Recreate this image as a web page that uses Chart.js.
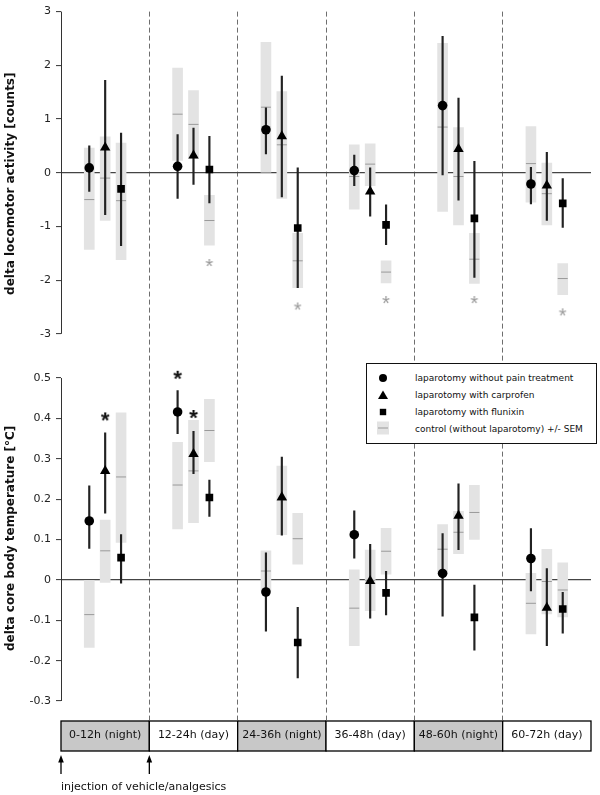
<!DOCTYPE html>
<html>
<head>
<meta charset="utf-8">
<script src="https://cdn.jsdelivr.net/npm/chart.js@4/dist/chart.umd.min.js"></script>
<style>
  body { margin: 0; background: #fff; }
  #wrap { position: relative; width: 600px; height: 795px; }
  #legend {
    position: absolute; left: 366px; top: 363px; width: 231px; height: 81px;
    box-sizing: border-box; border: 1.3px solid #111; background: #fff;
    font-family: "DejaVu Sans", sans-serif; font-size: 9px; color: #111;
  }
  #legend .mk { position: absolute; left: 9px; width: 14px; height: 14px; }
  #legend .tx { position: absolute; left: 48px; line-height: 12px; white-space: nowrap; }
</style>
</head>
<body>
<div id="wrap">
  <canvas id="chart" width="600" height="795"></canvas>
  <div id="legend">
    <svg class="mk" style="top:7px" viewBox="0 0 14 14"><circle cx="7" cy="7" r="4" fill="#000"/></svg>
    <span class="tx" style="top:8px">laparotomy without pain treatment</span>
    <svg class="mk" style="top:24px" viewBox="0 0 14 14"><polygon points="7,2.5 12,11 2,11" fill="#000"/></svg>
    <span class="tx" style="top:25px">laparotomy with carprofen</span>
    <svg class="mk" style="top:41px" viewBox="0 0 14 14"><rect x="3.8" y="3.8" width="6.4" height="6.4" fill="#000"/></svg>
    <span class="tx" style="top:42px">laparotomy with flunixin</span>
    <svg class="mk" style="top:57px" viewBox="0 0 14 14"><rect x="1" y="0.5" width="12" height="13" fill="#e3e3e3"/><line x1="2" y1="7" x2="12" y2="7" stroke="#999" stroke-width="1"/></svg>
    <span class="tx" style="top:59px">control (without laparotomy) +/- SEM</span>
  </div>
</div>
<script>
// time periods (x categories)
const periods = ['0-12h (night)', '12-24h (day)', '24-36h (night)', '36-48h (day)', '48-60h (night)', '60-72h (day)'];
const isNight = [true, false, true, false, true, false];

// y ticks
const locoTicks = [3, 2, 1, 0, -1, -2, -3];
const locoTickLabels = ['3', '2', '1', '0', '-1', '-2', '-3'];
const tempTicks = [0.5, 0.4, 0.3, 0.2, 0.1, 0, -0.1, -0.2, -0.3];
const tempTickLabels = ['0.5', '0.4', '0.3', '0.2', '0.1', '0', '-0.1', '-0.2', '-0.3'];

// delta locomotor activity [counts]
const locoNone = [0.09, 0.12, 0.80, 0.04, 1.25, -0.21];
const locoNoneErr = [[-0.35, 0.50], [-0.48, 0.71], [0.35, 1.21], [-0.24, 0.33], [-0.04, 2.54], [-0.58, 0.10]];
const locoCarp = [0.47, 0.32, 0.68, -0.35, 0.44, -0.24];
const locoCarpErr = [[-0.78, 1.72], [-0.22, 0.83], [-0.45, 1.80], [-0.81, 0.09], [-0.51, 1.39], [-0.89, 0.38]];
const locoFlun = [-0.30, 0.06, -1.03, -0.97, -0.85, -0.57];
const locoFlunErr = [[-1.36, 0.74], [-0.56, 0.68], [-2.14, 0.09], [-1.34, -0.60], [-1.95, 0.21], [-1.02, -0.11]];
const locoCtrlNone = [-0.50, 1.09, 1.22, -0.07, 0.85, 0.17];
const locoCtrlNoneSem = [[-1.43, 0.46], [0.23, 1.95], [0.01, 2.43], [-0.68, 0.52], [-0.72, 2.41], [-0.55, 0.86]];
const locoCtrlCarp = [-0.10, 0.90, 0.52, 0.16, -0.07, -0.39];
const locoCtrlCarpSem = [[-0.89, 0.67], [0.26, 1.53], [-0.48, 1.51], [-0.24, 0.54], [-0.97, 0.84], [-0.97, 0.18]];
const locoCtrlFlun = [-0.52, -0.89, -1.64, -1.85, -1.61, -1.97];
const locoCtrlFlunSem = [[-1.62, 0.55], [-1.35, -0.42], [-2.14, -1.13], [-2.05, -1.64], [-2.06, -1.13], [-2.27, -1.69]];
const locoStarsFlun = [null, -1.68, -2.49, -2.37, -2.37, -2.60];

// delta core body temperature [°C]
const tempNone = [0.146, 0.416, -0.030, 0.112, 0.016, 0.053];
const tempNoneErr = [[0.078, 0.233], [0.362, 0.469], [-0.127, 0.067], [0.054, 0.171], [-0.090, 0.115], [-0.027, 0.127]];
const tempCarp = [0.270, 0.312, 0.205, -0.003, 0.159, -0.069];
const tempCarpErr = [[0.165, 0.364], [0.263, 0.368], [0.111, 0.304], [-0.095, 0.088], [0.075, 0.238], [-0.163, 0.028]];
const tempFlun = [0.055, 0.204, -0.155, -0.032, -0.093, -0.072];
const tempFlunErr = [[-0.008, 0.112], [0.157, 0.247], [-0.243, -0.068], [-0.087, 0.021], [-0.174, -0.013], [-0.132, -0.031]];
const tempCtrlNone = [-0.086, 0.235, 0.022, -0.070, 0.076, -0.058];
const tempCtrlNoneSem = [[-0.167, 0.0], [0.126, 0.341], [-0.028, 0.072], [-0.163, 0.025], [0.015, 0.137], [-0.134, 0.016]];
const tempCtrlCarp = [0.072, 0.270, 0.197, -0.001, 0.118, -0.004];
const tempCtrlCarpSem = [[-0.006, 0.148], [0.142, 0.395], [0.112, 0.282], [-0.076, 0.074], [0.065, 0.170], [-0.084, 0.076]];
const tempCtrlFlun = [0.255, 0.370, 0.102, 0.071, 0.167, -0.025];
const tempCtrlFlunSem = [[0.093, 0.414], [0.293, 0.447], [0.039, 0.165], [0.014, 0.128], [0.100, 0.234], [-0.092, 0.042]];
const tempStarsNone = [null, 0.508, null, null, null, null];
const tempStarsCarp = [0.405, 0.411, null, null, null, null];

// column offsets inside a period: no treatment, carprofen, flunixin
const xOff = [0.32, 0.5, 0.68];

function makeStar(color, font) {
  const c = document.createElement('canvas');
  c.width = 18; c.height = 18;
  const g = c.getContext('2d');
  g.font = font;
  g.fillStyle = color;
  g.textAlign = 'center';
  const m = g.measureText('*');
  const base = 9 + (m.actualBoundingBoxAscent - m.actualBoundingBoxDescent) / 2;
  g.fillText('*', 9, base);
  return c;
}
const starBlack = makeStar('#111', 'bold 22px "Liberation Sans"');
const starGray = makeStar('#999', '20px "Liberation Sans"');

function pts(vals, col) {
  return vals.map((v, i) => v === null ? null : {x: i + xOff[col], y: v}).filter(p => p);
}
function semBox(sem, col, axis) {
  return {type: 'bar', yAxisID: axis, order: 5, grouped: false, categoryPercentage: 1, barPercentage: 1,
    maxBarThickness: 10, backgroundColor: '#e3e3e3', borderWidth: 0, data: pts(sem, col)};
}
function semMean(vals, col, axis) {
  return {type: 'scatter', yAxisID: axis, order: 4, pointStyle: 'line', pointRadius: 5,
    borderColor: '#9a9a9a', pointBorderWidth: 1, data: pts(vals, col)};
}
function errBar(err, col, axis) {
  return {type: 'bar', yAxisID: axis, order: 3, grouped: false, categoryPercentage: 1, barPercentage: 1,
    maxBarThickness: 1.5, backgroundColor: '#222', borderWidth: 0, data: pts(err, col)};
}
function mark(vals, col, axis, style, r) {
  return {type: 'scatter', yAxisID: axis, order: 1, pointStyle: style, pointRadius: r,
    backgroundColor: '#000', borderWidth: 0, pointBorderWidth: 0, data: pts(vals, col)};
}
function star(vals, col, axis, img) {
  return {type: 'scatter', yAxisID: axis, order: 0, pointStyle: img, pointRadius: 5, data: pts(vals, col)};
}

const datasets = [
  semBox(locoCtrlNoneSem, 0, 'yT'), semBox(locoCtrlCarpSem, 1, 'yT'), semBox(locoCtrlFlunSem, 2, 'yT'),
  semMean(locoCtrlNone, 0, 'yT'), semMean(locoCtrlCarp, 1, 'yT'), semMean(locoCtrlFlun, 2, 'yT'),
  errBar(locoNoneErr, 0, 'yT'), errBar(locoCarpErr, 1, 'yT'), errBar(locoFlunErr, 2, 'yT'),
  mark(locoNone, 0, 'yT', 'circle', 4.8), mark(locoCarp, 1, 'yT', 'triangle', 6), mark(locoFlun, 2, 'yT', 'rect', 5.4),
  star(locoStarsFlun, 2, 'yT', starGray),

  semBox(tempCtrlNoneSem, 0, 'yB'), semBox(tempCtrlCarpSem, 1, 'yB'), semBox(tempCtrlFlunSem, 2, 'yB'),
  semMean(tempCtrlNone, 0, 'yB'), semMean(tempCtrlCarp, 1, 'yB'), semMean(tempCtrlFlun, 2, 'yB'),
  errBar(tempNoneErr, 0, 'yB'), errBar(tempCarpErr, 1, 'yB'), errBar(tempFlunErr, 2, 'yB'),
  mark(tempNone, 0, 'yB', 'circle', 4.8), mark(tempCarp, 1, 'yB', 'triangle', 6), mark(tempFlun, 2, 'yB', 'rect', 5.4),
  star(tempStarsNone, 0, 'yB', starBlack), star(tempStarsCarp, 1, 'yB', starBlack)
];

const tickFont = {family: 'DejaVu Sans', size: 11};
const titleFont = {family: 'DejaVu Sans', size: 12, weight: 'bold'};
const zeroGrid = c => (c.tick && c.tick.value === 0) ? '#444' : 'rgba(0,0,0,0)';

// period boxes under the plot, axis lines and injection arrows
const extras = {
  id: 'extras',
  beforeDraw(chart) {
    const {ctx, chartArea, scales: {x}} = chart;
    ctx.save();
    ctx.lineWidth = 1.3;
    ctx.strokeStyle = '#000';
    periods.forEach((p, i) => {
      const l = x.getPixelForValue(i), r = x.getPixelForValue(i + 1);
      ctx.fillStyle = isNight[i] ? '#c8c8c8' : '#fff';
      ctx.fillRect(l, chartArea.bottom, r - l, 30);
      ctx.strokeRect(l, chartArea.bottom, r - l, 30);
    });
    ctx.restore();
  },
  afterDraw(chart) {
    const {ctx, chartArea, scales: {x, yT, yB}} = chart;
    ctx.save();
    ctx.strokeStyle = '#333';
    ctx.lineWidth = 1;
    const ax = Math.round(chartArea.left) + 0.5;
    [[yT, 3, -3], [yB, 0.5, -0.3]].forEach(([s, a, b]) => {
      ctx.beginPath();
      ctx.moveTo(ax, s.getPixelForValue(a));
      ctx.lineTo(ax, s.getPixelForValue(b));
      ctx.stroke();
    });
    ctx.fillStyle = '#000';
    ctx.strokeStyle = '#000';
    ctx.lineWidth = 1.3;
    [0, 1].forEach(v => {
      const px = x.getPixelForValue(v);
      const tip = chartArea.bottom + 34;
      ctx.beginPath();
      ctx.moveTo(px, tip + 6);
      ctx.lineTo(px, tip + 19);
      ctx.stroke();
      ctx.beginPath();
      ctx.moveTo(px, tip);
      ctx.lineTo(px - 2.8, tip + 7.5);
      ctx.lineTo(px + 2.8, tip + 7.5);
      ctx.closePath();
      ctx.fill();
    });
    ctx.restore();
  }
};

new Chart(document.getElementById('chart'), {
  type: 'bar',
  data: {datasets},
  options: {
    responsive: false,
    animation: false,
    events: [],
    devicePixelRatio: 1,
    layout: {padding: {top: 10, left: 0, right: 9, bottom: 0}},
    plugins: {legend: {display: false}, tooltip: {enabled: false}},
    scales: {
      x: {
        type: 'linear', min: 0, max: 6, offset: false, position: 'bottom',
        afterBuildTicks: s => { s.ticks = periods.map((p, i) => ({value: i + 0.5})); },
        afterFit: s => { s.height = 74; },
        ticks: {callback: (v, i) => periods[i], font: tickFont, color: '#111', padding: 8,
          autoSkip: false, maxRotation: 0},
        grid: {offset: true, drawTicks: false, lineWidth: 1,
          color: c => (c.index >= 1 && c.index <= 5) ? '#6e6e6e' : 'rgba(0,0,0,0)'},
        border: {display: false, dash: [5, 3]},
        title: {display: true, text: 'injection of vehicle/analgesics', align: 'start',
          font: tickFont, color: '#111', padding: {top: 0, bottom: 1}}
      },
      yT: {
        type: 'linear', position: 'left', stack: 'left', stackWeight: 345, weight: 2,
        min: -3.409, max: 3, bounds: 'data',
        afterBuildTicks: s => { s.ticks = locoTicks.map(v => ({value: v})); },
        afterFit: s => { s.width = 61; },
        ticks: {callback: (v, i) => locoTickLabels[i], font: tickFont, color: '#222', padding: 5},
        grid: {color: zeroGrid, lineWidth: 1.2, tickColor: '#333', tickLength: 5, tickWidth: 1},
        border: {display: false},
        title: {display: true, text: 'delta locomotor activity [counts]', font: titleFont, color: '#111',
          padding: {top: 4, bottom: 0}}
      },
      yB: {
        type: 'linear', position: 'left', stack: 'left', stackWeight: 366, weight: 1,
        min: -0.3495, max: 0.555, bounds: 'data',
        afterBuildTicks: s => { s.ticks = tempTicks.map(v => ({value: v})); },
        afterFit: s => { s.width = 61; },
        ticks: {callback: (v, i) => tempTickLabels[i], font: tickFont, color: '#222', padding: 5},
        grid: {color: zeroGrid, lineWidth: 1.2, tickColor: '#333', tickLength: 5, tickWidth: 1},
        border: {display: false},
        title: {display: true, text: 'delta core body temperature [°C]', font: titleFont, color: '#111',
          padding: {top: 4, bottom: 0}}
      }
    }
  },
  plugins: [extras]
});
</script>
</body>
</html>
